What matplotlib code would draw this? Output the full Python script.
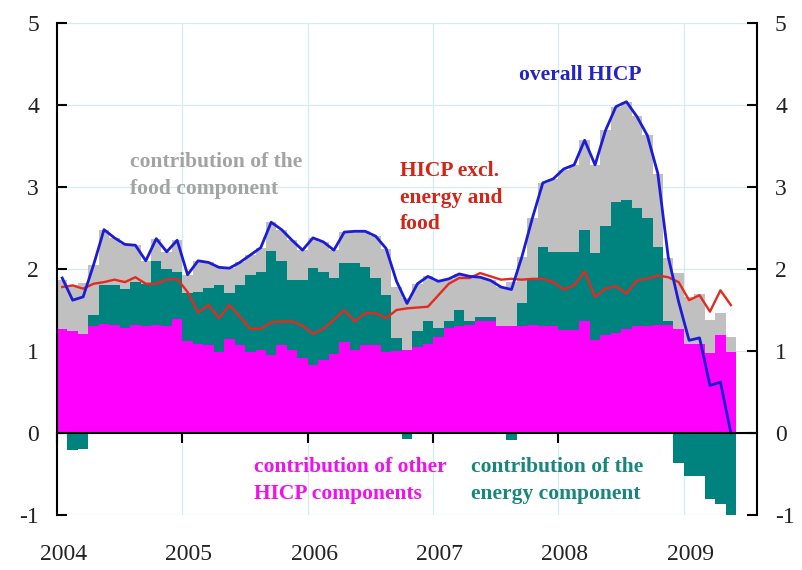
import numpy as np
import matplotlib
matplotlib.use("Agg")
import matplotlib.pyplot as plt

plt.rcParams['font.family'] = ['Liberation Serif', 'DejaVu Serif']

# monthly data, Jan 2004 - May 2009 (percentage points / annual % changes)
years = ['2004', '2005', '2006', '2007', '2008', '2009']

other = [1.27, 1.25, 1.21, 1.30, 1.33, 1.32, 1.28, 1.32, 1.31, 1.32, 1.31, 1.39,
         1.12, 1.08, 1.07, 0.99, 1.15, 1.07, 0.99, 1.01, 0.95, 1.07, 1.01, 0.91,
         0.83, 0.89, 0.96, 1.11, 1.01, 1.07, 1.07, 0.99, 1.00, 1.01, 1.05, 1.09,
         1.17, 1.28, 1.30, 1.32, 1.36, 1.36, 1.31, 1.31, 1.31, 1.32, 1.31, 1.31,
         1.26, 1.26, 1.37, 1.13, 1.20, 1.22, 1.27, 1.31, 1.30, 1.32, 1.32, 1.27,
         1.09, 1.09, 0.97, 1.19, 0.99]

energy = [0.00, -0.21, -0.19, 0.14, 0.47, 0.48, 0.48, 0.52, 0.51, 0.78, 0.69, 0.57,
          0.59, 0.64, 0.70, 0.81, 0.56, 0.73, 0.94, 0.95, 1.27, 1.03, 0.86, 0.96,
          1.18, 1.07, 0.93, 0.96, 1.06, 0.96, 0.82, 0.69, 0.16, -0.07, 0.19, 0.28,
          0.11, 0.09, 0.20, 0.05, 0.05, 0.05, 0.00, -0.09, 0.28, 0.54, 0.96, 0.90,
          0.95, 0.95, 1.10, 1.07, 1.32, 1.60, 1.57, 1.43, 1.32, 0.95, 0.05, -0.37,
          -0.53, -0.53, -0.80, -0.87, -1.05]

food = [0.60, 0.55, 0.62, 0.61, 0.68, 0.58, 0.54, 0.45, 0.28, 0.27, 0.21, 0.39,
        0.22, 0.38, 0.31, 0.23, 0.30, 0.28, 0.24, 0.30, 0.35, 0.38, 0.48, 0.36,
        0.37, 0.37, 0.34, 0.38, 0.39, 0.43, 0.51, 0.57, 0.62, 0.64, 0.58, 0.54,
        0.57, 0.51, 0.44, 0.54, 0.49, 0.45, 0.47, 0.53, 0.56, 0.76, 0.78, 0.89,
        1.00, 1.06, 1.10, 1.07, 1.17, 1.16, 1.20, 1.12, 1.01, 0.89, 0.76, 0.68,
        0.57, 0.60, 0.41, 0.27, 0.18]

hicp = [1.89, 1.62, 1.66, 2.05, 2.48, 2.38, 2.30, 2.29, 2.10, 2.37, 2.21, 2.35,
        1.93, 2.10, 2.08, 2.02, 2.01, 2.08, 2.17, 2.26, 2.57, 2.48, 2.35, 2.23,
        2.38, 2.33, 2.23, 2.45, 2.46, 2.46, 2.40, 2.25, 1.85, 1.58, 1.82, 1.91,
        1.85, 1.88, 1.94, 1.91, 1.90, 1.86, 1.78, 1.75, 2.15, 2.62, 3.05, 3.10,
        3.22, 3.27, 3.57, 3.27, 3.69, 3.98, 4.04, 3.86, 3.63, 3.17, 2.15, 1.60,
        1.13, 1.16, 0.58, 0.62, 0.00]

core = [1.78, 1.80, 1.76, 1.82, 1.84, 1.87, 1.84, 1.90, 1.82, 1.82, 1.87, 1.88,
        1.72, 1.47, 1.56, 1.40, 1.56, 1.42, 1.27, 1.27, 1.35, 1.36, 1.36, 1.31,
        1.21, 1.27, 1.38, 1.50, 1.36, 1.46, 1.46, 1.40, 1.50, 1.52, 1.53, 1.54,
        1.68, 1.82, 1.89, 1.89, 1.95, 1.91, 1.87, 1.88, 1.87, 1.88, 1.88, 1.84,
        1.75, 1.80, 1.97, 1.66, 1.76, 1.79, 1.70, 1.86, 1.88, 1.92, 1.90, 1.84,
        1.62, 1.68, 1.48, 1.74, 1.56]

MAGENTA = '#ff00ff'
TEAL = '#00837e'
GREY = '#c0c0c0'
BLUE = '#1c1cd6'
RED = '#e42a1e'

x = np.arange(len(hicp)) + 0.5
other = np.array(other)
energy = np.array(energy)
food = np.array(food)
e_pos = np.clip(energy, 0, None)
e_neg = np.clip(energy, None, 0)

fig = plt.figure(figsize=(8.02, 5.70), dpi=100)
ax = fig.add_axes([57/802, 1 - 515/570, 700/802, 492/570])

ax.bar(x, other, width=1.0, color=MAGENTA, linewidth=0, zorder=2)
ax.bar(x, e_pos, bottom=other, width=1.0, color=TEAL, linewidth=0, zorder=2)
ax.bar(x, e_neg, width=1.0, color=TEAL, linewidth=0, zorder=2)
ax.bar(x, food, bottom=other + e_pos, width=1.0, color=GREY, linewidth=0, zorder=2)

ax.plot(x, core, color=RED, lw=1.7, zorder=3)
ax.plot(x, hicp, color=BLUE, lw=2.0, zorder=4)

ax.set_xlim(0, 67)
ax.set_ylim(-1, 5)

# light grid behind the bars
for yv in range(-1, 6):
    ax.axhline(yv, color='#d3eded', lw=0.9, zorder=0)
for xv in range(12, 61, 12):
    ax.axvline(xv, color='#d3eded', lw=0.9, zorder=0)

ax.spines['top'].set_visible(False)
ax.spines['bottom'].set_position(('data', 0))
ax.spines['bottom'].set_zorder(5)
for s in ['left', 'right', 'bottom']:
    ax.spines[s].set_linewidth(1.5)

ax.set_yticks(range(-1, 6))
ax.set_yticklabels([str(v) for v in range(-1, 6)])
ax.tick_params(axis='y', which='both', direction='in', length=7, width=1.5,
               left=True, right=True, labelleft=True, labelright=True,
               labelsize=17, pad=13, labelcolor='#222222')

ax.set_xticks(np.arange(0, 61, 12))
ax.set_xticklabels([])
ax.tick_params(axis='x', which='major', direction='out', length=7, width=1.5)
ax.set_xticks(np.arange(0, 61, 12) + 0.6, minor=True)
ax.set_xticklabels(years, minor=True)
ax.tick_params(axis='x', which='minor', length=0, pad=80, labelsize=17,
               labelcolor='#222222')

# annotations
kw = dict(fontsize=15.5, fontweight='bold', ha='left', va='center', linespacing=1.45)
ax.text(7.0, 3.14, 'contribution of the\nfood component', color='#a3a3a3', **kw)
ax.text(32.8, 2.87, 'HICP excl.\nenergy and\nfood', color='#d42418', **kw)
ax.text(44.2, 4.37, 'overall HICP', color='#2424c0', **kw)
ax.text(18.9, -0.58, 'contribution of other\nHICP components', color='#ee10ee', **kw)
ax.text(39.6, -0.58, 'contribution of the\nenergy component', color='#17867c', **kw)

fig.savefig('out.png', dpi=100)
